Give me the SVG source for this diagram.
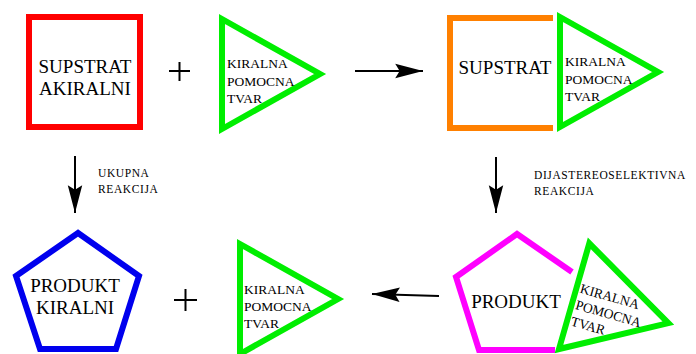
<svg xmlns="http://www.w3.org/2000/svg" width="696" height="354" viewBox="0 0 696 354">
<style>
.big{font-family:"Liberation Serif","Times New Roman",serif;font-size:19px;fill:#000}
.sm{font-family:"Liberation Serif","Times New Roman",serif;font-size:13.5px;fill:#000}
.lbl{font-family:"Liberation Serif","Times New Roman",serif;font-size:11.5px;fill:#000;letter-spacing:0.6px}
.shape{fill:none;stroke-width:6}
.tri{fill:none;stroke:#00ee00;stroke-width:6}
.conn{stroke:#000;stroke-width:2;fill:none}
.plus{stroke:#000;stroke-width:2}
</style>
<defs>
<marker id="ah" markerUnits="userSpaceOnUse" markerWidth="30" markerHeight="16" viewBox="-26 -7 27 14" refX="0" refY="0" orient="auto">
<path d="M0,0 L-25,-6.5 L-21,0 L-25,6.5 Z" fill="#000"/>
</marker>
<polygon id="trishape" points="0,0 0,110 98,55"/>
</defs>
<g id="connectors">
<line class="conn" x1="355" y1="71" x2="423" y2="71" marker-end="url(#ah)"/>
<line class="conn" x1="75" y1="156" x2="75" y2="213" marker-end="url(#ah)"/>
<line class="conn" x1="496" y1="157" x2="496" y2="213" marker-end="url(#ah)"/>
<line class="conn" x1="439" y1="296" x2="372" y2="294" marker-end="url(#ah)"/>
<text class="lbl" x="98" y="177">UKUPNA</text>
<text class="lbl" x="98" y="193">REAKCIJA</text>
<text class="lbl" x="534" y="179">DIJASTEREOSELEKTIVNA</text>
<text class="lbl" x="534" y="195">REAKCIJA</text>
</g>
<g id="supstrat-akiralni">
<rect class="shape" x="29" y="17" width="111" height="110" stroke="#ff0000"/>
<text class="big" x="85" y="73" text-anchor="middle">SUPSTRAT</text>
<text class="big" x="85" y="95" text-anchor="middle">AKIRALNI</text>
</g>
<g id="plus1">
<line class="plus" x1="169" y1="71" x2="190" y2="71"/>
<line class="plus" x1="179.5" y1="62" x2="179.5" y2="81"/>
</g>
<g id="pomocna1">
<use href="#trishape" class="tri" x="222" y="19"/>
<text class="sm" x="227" y="68">KIRALNA</text>
<text class="sm" x="227" y="85.5">POMOCNA</text>
<text class="sm" x="227" y="103">TVAR</text>
</g>
<g id="supstrat-kompleks">
<path class="shape" d="M553,18 H450 V128 H553" stroke="#ff8000"/>
<text class="big" x="505" y="74" text-anchor="middle">SUPSTRAT</text>
<use href="#trishape" class="tri" x="560" y="17"/>
<text class="sm" x="565" y="66">KIRALNA</text>
<text class="sm" x="565" y="83.5">POMOCNA</text>
<text class="sm" x="565" y="101">TVAR</text>
</g>
<g id="produkt-kiralni">
<polygon class="shape" points="78,233 16,276 40,349 116,349 139,276" stroke="#0000ee"/>
<text class="big" x="75" y="292" text-anchor="middle">PRODUKT</text>
<text class="big" x="75" y="314" text-anchor="middle">KIRALNI</text>
</g>
<g id="plus2">
<line class="plus" x1="174" y1="300" x2="197" y2="300"/>
<line class="plus" x1="185.5" y1="289" x2="185.5" y2="311"/>
</g>
<g id="pomocna2">
<use href="#trishape" class="tri" x="240" y="244"/>
<text class="sm" x="244" y="294">KIRALNA</text>
<text class="sm" x="244" y="311">POMOCNA</text>
<text class="sm" x="244" y="328">TVAR</text>
</g>
<g id="produkt-kompleks">
<path class="shape" d="M572,272 L517,234 L456,277 L479,350 L555,350" stroke="#ff00ff"/>
<text class="big" x="516" y="308" text-anchor="middle">PRODUKT</text>
<g transform="translate(589.3,243.3) rotate(16)">
<use href="#trishape" class="tri"/>
<text class="sm" x="4" y="50">KIRALNA</text>
<text class="sm" x="4" y="67">POMOCNA</text>
<text class="sm" x="4" y="84">TVAR</text>
</g>
</g>
</svg>
